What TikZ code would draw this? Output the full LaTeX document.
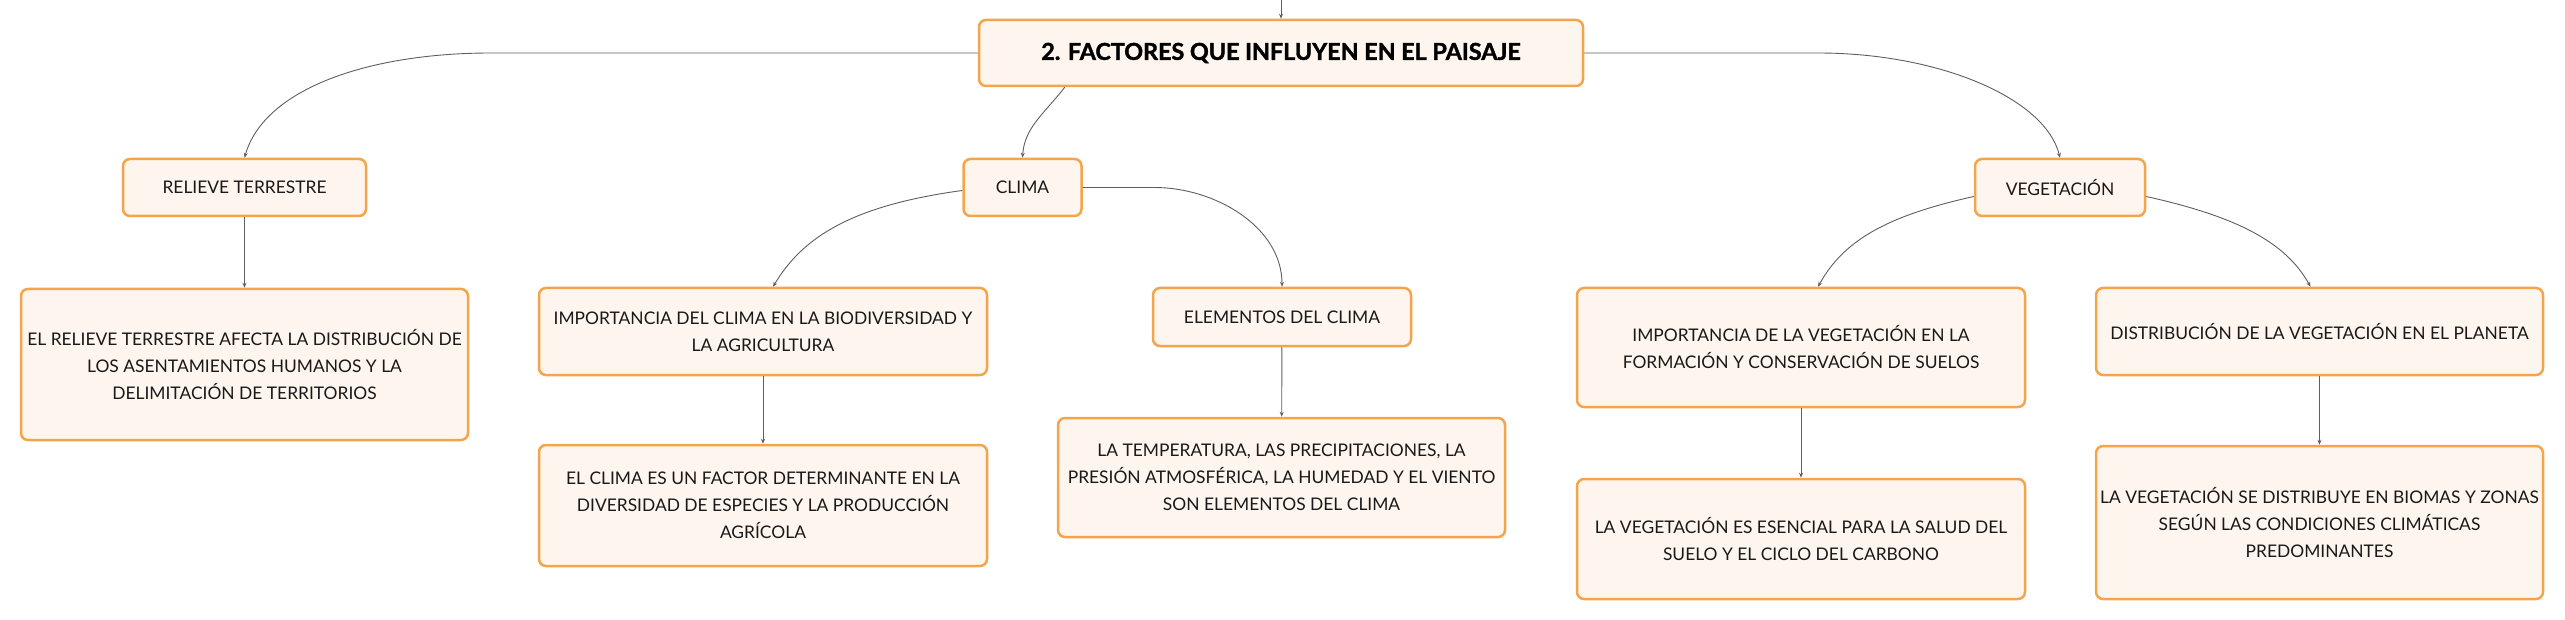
\documentclass[tikz,border=0pt]{standalone}
\usepackage{fontspec}
\setmainfont{Lato}
\newfontfamily\titlefont[BoldFeatures={FakeBold=1.6}]{Lato}
\usepackage{tikz}
\usetikzlibrary{arrows.meta}
\usetikzlibrary{calc}
\usepackage{xcolor}
\definecolor{boxline}{HTML}{F4A54C}
\definecolor{boxfill}{HTML}{FEF6EE}
\definecolor{wire}{HTML}{5E5E5E}

\begin{document}
\begin{tikzpicture}[x=1pt,y=-1pt,
  box/.style={draw=boxline,fill=boxfill,line width=2.5pt,rounded corners=7pt,
    align=center,inner sep=0pt,text=black!90,font=\fontsize{17.4}{27}\selectfont},
  link/.style={draw=wire,line width=0.9pt,-{Stealth[length=5pt,width=4pt]}}]
\useasboundingbox (0,0) rectangle (2565,620);
\node[box,minimum width=604pt,minimum height=66pt,text=black,font=\titlefont\fontsize{23.3}{28}\selectfont\bfseries] (root) at (1281,53) {2. FACTORES QUE INFLUYEN EN EL PAISAJE};
\coordinate (top) at (1281,0);
\node[box,minimum width=243pt,minimum height=57pt] (relieve) at (244.5,187.5) {RELIEVE TERRESTRE};
\node[box,minimum width=447pt,minimum height=151pt] (relievetxt) at (244.5,364.5) {EL RELIEVE TERRESTRE AFECTA LA DISTRIBUCIÓN DE\\LOS ASENTAMIENTOS HUMANOS Y LA\\DELIMITACIÓN DE TERRITORIOS};
\node[box,minimum width=118pt,minimum height=57pt] (clima) at (1022.5,187.5) {CLIMA};
\node[box,minimum width=448pt,minimum height=87pt] (impclima) at (763,331.5) {IMPORTANCIA DEL CLIMA EN LA BIODIVERSIDAD Y\\LA AGRICULTURA};
\node[box,minimum width=448pt,minimum height=121pt] (climatxt) at (763,505.5) {EL CLIMA ES UN FACTOR DETERMINANTE EN LA\\DIVERSIDAD DE ESPECIES Y LA PRODUCCIÓN\\AGRÍCOLA};
\node[box,minimum width=258pt,minimum height=58pt] (elem) at (1282,317) {ELEMENTOS DEL CLIMA};
\node[box,minimum width=447pt,minimum height=119pt] (elemtxt) at (1281.5,477.5) {LA TEMPERATURA, LAS PRECIPITACIONES, LA\\PRESIÓN ATMOSFÉRICA, LA HUMEDAD Y EL VIENTO\\SON ELEMENTOS DEL CLIMA};
\node[box,minimum width=170pt,minimum height=57pt] (veg) at (2060,187.5) {VEGETACIÓN};
\node[box,minimum width=448pt,minimum height=119pt] (impveg) at (1801,347.5) {IMPORTANCIA DE LA VEGETACIÓN EN LA\\FORMACIÓN Y CONSERVACIÓN DE SUELOS};
\node[box,minimum width=448pt,minimum height=120pt] (vegtxt) at (1801,539) {LA VEGETACIÓN ES ESENCIAL PARA LA SALUD DEL\\SUELO Y EL CICLO DEL CARBONO};
\node[box,minimum width=447pt,minimum height=87pt] (distrib) at (2319.5,331.5) {DISTRIBUCIÓN DE LA VEGETACIÓN EN EL PLANETA};
\node[box,minimum width=447pt,minimum height=153pt] (distribtxt) at (2319.5,522.5) {LA VEGETACIÓN SE DISTRIBUYE EN BIOMAS Y ZONAS\\SEGÚN LAS CONDICIONES CLIMÁTICAS\\PREDOMINANTES};
\draw[link] (top) -- (root);
\draw[link] (root.west) -- ++(-487,0) .. controls +(-120,0) and +(20,-70) .. (relieve.north);
\draw[link] (root.east) -- ++(234,0) .. controls +(120,0) and +(-15,-60) .. (veg.north);
\draw[link] ($(root.south west)+(87,0)$) .. controls +(-22,28) and +(2,-30) .. (clima.north);
\draw[link] ($(clima.west)+(0,3)$) .. controls +(-110,15) and +(30,-50) .. ($(impclima.north)+(10,0)$);
\draw[link] (clima.east) -- ++(72,0) .. controls +(60,0) and +(0,-60) .. (elem.north);
\draw[link] ($(veg.west)+(0,9)$) .. controls +(-90,20) and +(25,-45) .. ($(impveg.north)+(17,0)$);
\draw[link] ($(veg.east)+(0,9)$) .. controls +(90,20) and +(-25,-45) .. ($(distrib.north)+(-9,0)$);
\foreach \a/\b in {relieve/relievetxt,impclima/climatxt,elem/elemtxt,impveg/vegtxt,distrib/distribtxt} {
	\draw[link] (\a) -- (\b);
}
\end{tikzpicture}
\end{document}
